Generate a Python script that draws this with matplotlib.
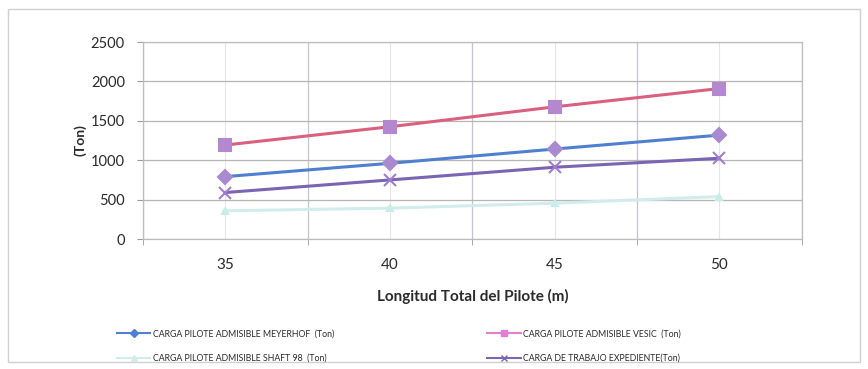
import matplotlib.pyplot as plt
from matplotlib.lines import Line2D

# ---------- DATA ----------
longitudes = [35, 40, 45, 50]
carga_meyerhof = [792, 961, 1142, 1319]
carga_vesic = [1193, 1425, 1678, 1910]
carga_shaft = [358, 392, 455, 539]
carga_trabajo = [590, 750, 911, 1025]

labels = [
    "CARGA PILOTE ADMISIBLE MEYERHOF  (Ton)",
    "CARGA PILOTE ADMISIBLE VESIC  (Ton)",
    "CARGA PILOTE ADMISIBLE SHAFT 98  (Ton)",
    "CARGA DE TRABAJO EXPEDIENTE(Ton)",
]

plt.rcParams["font.family"] = ["Lato", "DejaVu Sans"]

fig = plt.figure(figsize=(8.68, 3.69), dpi=100)
ax = fig.add_axes([0.1647, 0.3523, 0.759, 0.5337])

# category axis: one slot per length
xpos = list(range(len(longitudes)))

series = [
    (carga_meyerhof, "#4f7fcf", "D", "#a98ad0", 7),
    (carga_vesic, "#d9607e", "s", "#b388cf", 8),
    (carga_shaft, "#d2ecec", "^", "#c8ecea", 5),
    (carga_trabajo, "#7a64b4", "x", "#a07cd0", 8),
]
handles = []
for (vals, col, mk, mcol, ms), lab in zip(series, labels):
    ax.plot(xpos, vals, color=col, lw=2.2, marker=mk, markersize=ms,
            markerfacecolor=mcol, markeredgecolor=mcol, markeredgewidth=1.5,
            zorder=3)
    legend_col = {"#d9607e": "#e07fd4"}.get(col, col)
    handles.append(Line2D([], [], color=legend_col, lw=1.5, marker=mk,
                          markersize=4, markerfacecolor=legend_col,
                          markeredgecolor=legend_col))

ax.set_xlim(-0.5, len(longitudes) - 0.5)
ax.set_ylim(0, 2500)
ax.set_yticks(range(0, 2501, 500))
ax.set_xticks(xpos)
ax.set_xticklabels([str(v) for v in longitudes])
ax.set_xticks([i - 0.5 for i in range(len(longitudes) + 1)], minor=True)

ax.grid(axis="y", which="major", color="#b5b5b5", lw=0.9)
ax.grid(axis="x", which="minor", color="#c4c4d0", lw=0.9)
ax.grid(axis="x", which="major", color="#e6e6ea", lw=0.8)
ax.set_axisbelow(True)

for s in ax.spines.values():
    s.set_color("#bdbdbd")
    s.set_linewidth(0.9)

ax.tick_params(axis="x", which="major", length=0, pad=14, labelsize=11,
               labelcolor="#2a2a2a")
ax.tick_params(axis="x", which="minor", length=4, color="#9a9a9a")
ax.tick_params(axis="y", length=4, color="#9a9a9a", pad=9, labelsize=10.5,
               labelcolor="#2a2a2a")

ax.set_xlabel("Longitud Total del Pilote (m)", fontsize=11, fontweight="bold",
              color="#2a2a2a", labelpad=12)
ax.set_ylabel("(Ton)", fontsize=10, fontweight="bold", color="#2a2a2a",
              labelpad=3)

# legend: two columns, filled column by column
order = [0, 2, 1, 3]
fig.legend([handles[i] for i in order], [labels[i] for i in order],
           ncol=2, loc="upper left", bbox_to_anchor=(0.126, 0.129),
           frameon=False, fontsize=6.3, handlelength=3.8, handletextpad=0.3,
           columnspacing=17.5, labelspacing=1.75, labelcolor="#2a2a2a")

# chart area border
fig.patches.append(plt.Rectangle((0.009, 0.02), 0.982, 0.955,
                                 transform=fig.transFigure, fill=False,
                                 edgecolor="#d0d0d0", lw=1.0))

fig.savefig("out.png", dpi=100)
